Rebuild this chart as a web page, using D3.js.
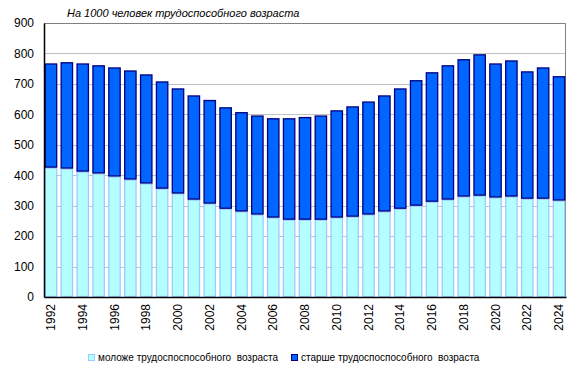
<!DOCTYPE html>
<html>
<head>
<meta charset="utf-8">
<script src="https://cdn.jsdelivr.net/npm/d3@7/dist/d3.min.js"></script>
<style>
  body { margin: 0; background: #fff; }
  text { font-family: "Liberation Sans", Arial, sans-serif; }
</style>
</head>
<body>
<div id="chart"></div>
<script>
// values per 1000 working-age people
var years = d3.range(1992, 2025);
var younger = [425, 422, 412, 406, 396, 386, 373, 356, 340, 320, 307, 290, 281, 271, 261, 254, 254,
               254, 261, 264, 271, 281, 290, 300, 313, 320, 330, 333, 327, 330, 323, 323, 317];
var older = [342, 349, 355, 355, 358, 358, 358, 352, 345, 342, 340, 333, 326, 325, 326, 333, 337,
             342, 352, 362, 371, 381, 395, 412, 425, 441, 451, 464, 440, 447, 418, 431, 408];
var yTicks = [0, 100, 200, 300, 400, 500, 600, 700, 800, 900];
var seriesNames = ["моложе трудоспоспособного  возраста", "старше трудоспоспособного  возраста"];
var titleText = "На 1000 человек трудоспособного возраста";

(function() {
  var margin = { top: 23, left: 44, right: 13, bottom: 75 },
      width = 579 - margin.left - margin.right,
      height = 372 - margin.top - margin.bottom;

  var svg = d3.select("#chart")
    .append("svg")
    .attr("width", 579)
    .attr("height", 372);

  var g = svg.append("g")
    .attr("transform", "translate(" + margin.left + "," + margin.top + ")");

  var x = d3.scaleBand().domain(years).range([0, width]).paddingInner(0.22).paddingOuter(0.05);
  var y = d3.scaleLinear().domain([0, 900]).range([height, 0]);

  // gridlines
  g.selectAll(".grid")
    .data(yTicks.slice(1))
    .enter().append("line")
    .attr("x1", 0).attr("x2", width)
    .attr("y1", function(d) { return Math.round(y(d)) + 0.5; })
    .attr("y2", function(d) { return Math.round(y(d)) + 0.5; })
    .attr("stroke", "#c0c0c0");

  // plot frame (top/right)
  g.append("path")
    .attr("d", "M0," + 0.5 + "H" + (width - 0.5) + "V" + height)
    .attr("fill", "none")
    .attr("stroke", "#808080");

  var data = years.map(function(yr, i) {
    return { year: yr, young: younger[i], old: older[i] };
  });

  var stack = d3.stack().keys(["young", "old"])(data);
  var fills = ["#b3ffff", "#0066ff"];
  var strokes = ["#99ccff", "#000080"];

  g.selectAll(".series")
    .data(stack)
    .enter().append("g")
    .attr("fill", function(d, i) { return fills[i]; })
    .attr("stroke", function(d, i) { return strokes[i]; })
    .selectAll("rect")
    .data(function(d) { return d; })
    .enter().append("rect")
    .attr("x", function(d) { return x(d.data.year) + 0.5; })
    .attr("width", x.bandwidth() - 1)
    .attr("y", function(d) { return y(d[1]) + 0.5; })
    .attr("height", function(d) { return y(d[0]) - y(d[1]) - 1; })
    .attr("stroke-width", 1.3);

  // axes
  var yAxis = d3.axisLeft(y).tickValues(yTicks).tickSize(0).tickPadding(10);
  g.append("g")
    .call(yAxis)
    .call(function(s) {
      s.select(".domain").attr("stroke", "#000").attr("stroke-width", 1.5);
      s.selectAll("text").style("font-size", "12px").attr("fill", "#000");
    });

  var xAxis = d3.axisBottom(x)
    .tickValues(years.filter(function(d) { return d % 2 === 0; }))
    .tickSize(0)
    .tickPadding(0);
  g.append("g")
    .attr("transform", "translate(0," + height + ")")
    .call(xAxis)
    .call(function(s) {
      s.select(".domain").attr("stroke", "#000").attr("stroke-width", 1.5);
      s.selectAll("text")
        .style("font-size", "12px")
        .attr("fill", "#000")
        .attr("transform", "rotate(-90)")
        .attr("text-anchor", "end")
        .attr("x", -7)
        .attr("y", 0)
        .attr("dy", "0.35em");
    });

  // title
  svg.append("text")
    .attr("x", 67)
    .attr("y", 17)
    .style("font-size", "11px")
    .style("font-style", "italic")
    .text(titleText);

  // legend
  var legendX = [88, 291];
  var legend = svg.selectAll(".legend")
    .data(seriesNames)
    .enter().append("g")
    .attr("transform", function(d, i) { return "translate(" + legendX[i] + ",354)"; });

  legend.append("rect")
    .attr("x", 0.5).attr("y", 0.5)
    .attr("width", 6).attr("height", 6)
    .attr("fill", function(d, i) { return fills[i]; })
    .attr("stroke", function(d, i) { return strokes[i]; });

  legend.append("text")
    .attr("x", 10)
    .attr("y", 7)
    .style("font-size", "10px")
    .style("white-space", "pre")
    .text(function(d) { return d; });
})();
</script>
</body>
</html>
